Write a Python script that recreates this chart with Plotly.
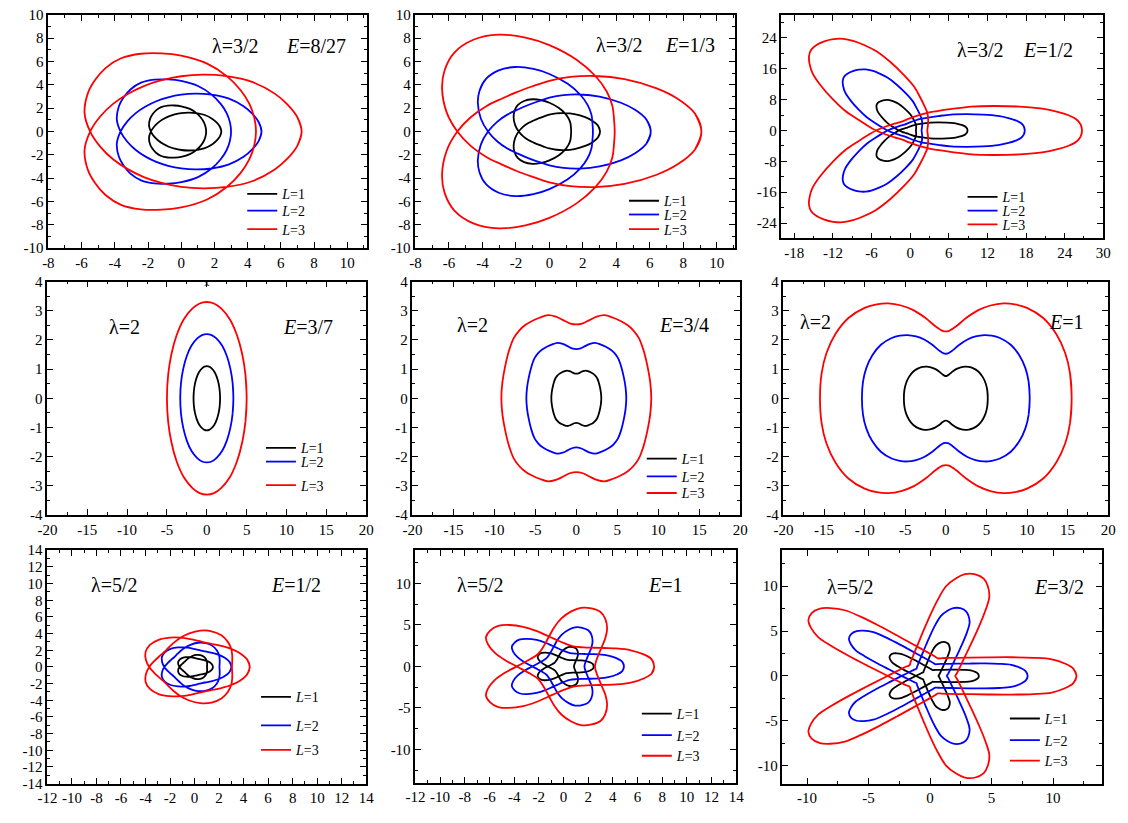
import numpy as np
import plotly.graph_objects as go
from fractions import Fraction

W, H = 1128, 823

# ---------------- data ----------------
L_values = [1, 2, 3]
line_colors = ["#000000", "#0000ff", "#ff0000"]
legend_names = ["<i>L</i>=1", "<i>L</i>=2", "<i>L</i>=3"]

lambda_values = [Fraction(3, 2)] * 3 + [Fraction(2)] * 3 + [Fraction(5, 2)] * 3
lambda_labels = ["λ=3/2"] * 3 + ["λ=2"] * 3 + ["λ=5/2"] * 3
E_labels = ["8/27", "1/3", "1/2", "3/7", "3/4", "1", "1/2", "1", "3/2"]

# half petal (apocentre -> pericentre) of every L=3 orbit
p1_x = [7.25, 6.99, 6.39, 5.63, 4.26, 2.74, 1.30, 0.00, -1.18, -2.25]
p1_y = [0.00, 1.23, 2.33, 3.25, 4.26, 4.75, 4.87, 4.74, 4.40, 3.90]

p2_x = [9.08, 8.70, 7.68, 6.41, 4.49, 2.75, 1.26, 0.00, -1.04, -1.95]
p2_y = [0.00, 1.53, 2.79, 3.70, 4.49, 4.76, 4.68, 4.35, 3.86, 3.38]

p3_x = [26.7, 26.5, 25.8, 24.6, 22.9, 20.5, 17.0, 13.0, 9.5, 6.5, 4.2, 2.65, 1.0, -0.3, -1.33]
p3_y = [0.0, 1.5, 2.9, 3.95, 4.85, 5.7, 6.2, 6.35, 6.2, 5.6, 5.05, 4.6, 3.8, 3.0, 2.30]

p4_x = [5.0, 4.85, 4.45, 3.8, 2.9, 1.8, 0.9, 0.0]
p4_y = [0.0, 0.8, 1.5, 2.15, 2.7, 3.08, 3.25, 3.3]

p5_x = [9.15, 9.02, 8.72, 8.25, 7.64, 6.95, 6.24, 5.4, 4.5, 3.45, 2.5, 1.6, 0.8, 0.0]
p5_y = [0.0, 0.55, 1.05, 1.6, 2.06, 2.33, 2.51, 2.65, 2.76, 2.85, 2.8, 2.68, 2.57, 2.53]

p6_x = [15.5, 15.3, 14.7, 13.6, 12.0, 10.0, 8.5, 7.1, 5.5, 4.0, 2.5, 1.2, 0.4, 0.0]
p6_y = [0.0, 0.85, 1.55, 2.2, 2.75, 3.1, 3.22, 3.25, 3.18, 3.02, 2.75, 2.45, 2.31, 2.29]

p7_x = [4.5, 4.28, 3.7, 2.99, 2.25, 1.57, 0.94]
p7_y = [0.0, 0.91, 1.65, 2.17, 2.5, 2.72, 2.90]

p8_x = [7.35, 7.15, 6.5, 5.45, 4.3, 3.3, 2.5, 1.6, 0.788]
p8_y = [0.0, 0.85, 1.45, 1.95, 2.17, 2.22, 2.25, 2.3, 2.425]

p9_x = [11.9, 11.65, 11.0, 9.9, 8.4, 6.6, 4.8, 3.3, 2.3, 1.5, 0.95, 0.633]
p9_y = [0.0, 0.8, 1.35, 1.85, 2.02, 2.08, 2.07, 2.04, 2.02, 2.0, 1.98, 1.95]

seg_x = [p1_x, p2_x, p3_x, p4_x, p5_x, p6_x, p7_x, p8_x, p9_x]
seg_y = [p1_y, p2_y, p3_y, p4_y, p5_y, p6_y, p7_y, p8_y, p9_y]

# axis ranges and ticks
x_ranges = [[-8, 11.2], [-8, 11.1], [-20, 30], [-20, 20], [-20, 20], [-20, 20], [-12, 14], [-12, 14], [-12, 14]]
y_ranges = [[-10, 10], [-10, 10], [-28, 30], [-4, 4], [-4, 4], [-4, 4], [-14, 14], [-14, 14], [-12, 14]]
x_ticks = [list(range(-8, 11, 2)), list(range(-8, 11, 2)), list(range(-18, 31, 6)),
           list(range(-20, 21, 5)), list(range(-20, 21, 5)), list(range(-20, 21, 5)),
           list(range(-12, 15, 2)), list(range(-12, 15, 2)), [-10, -5, 0, 5, 10]]
y_ticks = [list(range(-10, 11, 2)), list(range(-10, 11, 2)), [-24, -16, -8, 0, 8, 16, 24],
           list(range(-4, 5)), list(range(-4, 5)), list(range(-4, 5)),
           list(range(-14, 15, 2)), [-10, -5, 0, 5, 10], [-10, -5, 0, 5, 10]]
x_minor = [1, 1, 3, 2.5, 2.5, 2.5, 1, 1, 2.5]
y_minor = [1, 1, 4, 0.5, 0.5, 0.5, 1, 2.5, 2.5]

# panel boxes in picture pixels (left, right, top, bottom)
boxes = [(39, 363, 7, 245), (412, 737, 7, 245), (784, 1111, 7, 235),
         (38, 362, 279, 517), (409, 742, 279, 517), (786, 1116, 279, 517),
         (38, 362, 553, 791), (412, 738, 553, 790), (785, 1110, 553, 791)]

lam_pos = [(229, 39), (619, 38), (986, 43), (116, 325), (470, 323), (819, 320), (106, 588), (478, 588), (854, 590)]
E_pos = [(311, 39), (691, 38), (1055, 43), (303, 325), (685, 323), (1074, 320), (291, 588), (666, 588), (1066, 590)]

# legend rows (line start x, row y) per panel, None = no legend
legend_x = [243, 631, 975, 262, 649, None, 257, 644, 1018]
legend_rows = [[190, 207, 226], [197, 211, 226], [193, 207, 221], [449, 463, 487], [460, 478, 495],
               None, [703, 732, 757], [720, 742, 763], [725, 747, 768]]

FONT = "Liberation Serif, Times New Roman, serif"


def px_x(px):
    return px / W


def px_y(py):
    return 1 - py / H


def closed_orbit(sx, sy, lam, scale):
    sx = np.asarray(sx, float)
    sy = np.asarray(sy, float)
    dphi = np.pi / float(lam)
    K = lam.numerator
    th = np.arctan2(sy, sx)
    r = np.hypot(sx, sy)
    th_p = np.concatenate([th, 2 * dphi - th[::-1][1:]])
    r_p = np.concatenate([r, r[::-1][1:]])
    TH = np.concatenate([th_p[:-1] + 2 * dphi * k for k in range(K)])
    R = np.concatenate([r_p[:-1] for _ in range(K)])
    # wrap so the spline closes smoothly
    TH = np.concatenate([[TH[-1]], TH, TH[:2]])
    R = np.concatenate([[R[-1]], R, R[:2]])
    return scale * R * np.cos(TH), scale * R * np.sin(TH)


fig = go.Figure()
layout = dict(width=W, height=H, margin=dict(l=0, r=0, t=0, b=0),
              paper_bgcolor="white", plot_bgcolor="white", showlegend=True,
              font=dict(family=FONT, size=15, color="black"))
annotations = []
legend_count = 0

for i in range(9):
    n = i + 1
    sfx = "" if n == 1 else str(n)
    L, R_, T, B = boxes[i]
    axis_common = dict(showgrid=False, zeroline=False, showline=True, linecolor="black", linewidth=1.6,
                       mirror="allticks", ticks="inside", ticklen=6, tickwidth=1.2, tickcolor="black",
                       tickfont=dict(family=FONT, size=15, color="black"))
    layout["xaxis" + sfx] = dict(axis_common, domain=[px_x(L), px_x(R_)], range=x_ranges[i], anchor="y" + sfx,
                                 tickmode="array", tickvals=x_ticks[i], ticktext=[str(v) for v in x_ticks[i]],
                                 minor=dict(tickmode="linear", tick0=0, dtick=x_minor[i], ticklen=3,
                                            ticks="inside", tickcolor="black", tickwidth=1))
    layout["yaxis" + sfx] = dict(axis_common, domain=[px_y(B), px_y(T)], range=y_ranges[i], anchor="x" + sfx,
                                 tickmode="array", tickvals=y_ticks[i], ticktext=[str(v) for v in y_ticks[i]],
                                 minor=dict(tickmode="linear", tick0=0, dtick=y_minor[i], ticklen=3,
                                            ticks="inside", tickcolor="black", tickwidth=1))
    for j, Lv in enumerate(L_values):
        x, y = closed_orbit(seg_x[i], seg_y[i], lambda_values[i], Lv / 3)
        tr = dict(x=x, y=y, mode="lines", line=dict(color=line_colors[j], width=1.8, shape="spline"),
                  name=legend_names[j], xaxis="x" + sfx, yaxis="y" + sfx, hoverinfo="skip")
        if legend_x[i] is None:
            tr["showlegend"] = False
        else:
            legend_count += 1
            lid = "legend" if legend_count == 1 else "legend%d" % legend_count
            tr["legend"] = lid
            layout[lid] = dict(x=px_x(legend_x[i] - 7), y=px_y(legend_rows[i][j]), xanchor="left",
                               yanchor="middle", bgcolor="rgba(0,0,0,0)", borderwidth=0,
                               font=dict(family=FONT, size=14, color="black"))
        fig.add_trace(go.Scatter(**tr))
    annotations.append(dict(text=lambda_labels[i], x=px_x(lam_pos[i][0]), y=px_y(lam_pos[i][1]),
                            xref="paper", yref="paper", showarrow=False, xanchor="center", yanchor="middle",
                            font=dict(family=FONT, size=20, color="black")))
    annotations.append(dict(text="<i>E</i>=" + E_labels[i], x=px_x(E_pos[i][0]), y=px_y(E_pos[i][1]),
                            xref="paper", yref="paper", showarrow=False, xanchor="center", yanchor="middle",
                            font=dict(family=FONT, size=20, color="black")))

annotations.append(dict(text="x", x=0, y=4, xref="x4", yref="y4", showarrow=False, yanchor="middle",
                        font=dict(family=FONT, size=11, color="black")))
layout["annotations"] = annotations
fig.update_layout(**layout)
fig.write_html("out.html", config={"displayModeBar": False},
               post_script="document.body.style.margin='0';document.body.style.overflow='hidden';")
